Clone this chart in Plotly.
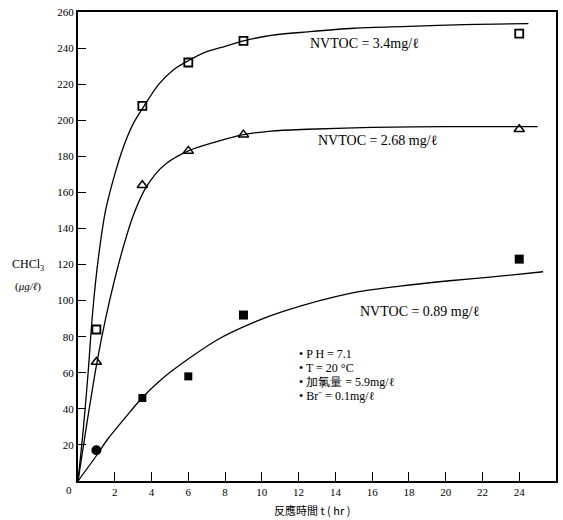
import plotly.graph_objects as go

# ---- measured points ----
t_pts = [1.0, 3.5, 6.0, 9.0, 24.0]
y_34 = [84, 208, 232, 244, 248]        # NVTOC = 3.4 mg/l (open squares)
y_268 = [66, 164, 183, 192, 195]       # NVTOC = 2.68 mg/l (open triangles)
y_089 = [17, 46, 58, 92, 123]          # NVTOC = 0.89 mg/l (filled squares)

# ---- hand-drawn fitted curves ----
ct_34 = [0, 0.3, 0.55, 0.8, 1.1, 1.5, 2.0, 2.5, 3.0, 3.6, 4.4, 5.2, 6.0, 7.0, 8.0, 9.0, 10.5, 12.5, 15, 18, 21, 24.5]
cy_34 = [0, 30, 60, 94, 123, 150, 170, 186, 198, 208, 220, 228, 233, 238, 241, 244, 247, 249, 251, 252, 253, 253.5]
ct_268 = [0, 0.5, 1.0, 1.5, 2.0, 2.5, 3.0, 3.6, 4.2, 4.8, 6.0, 7.5, 9.0, 10.5, 12.5, 16, 20, 25]
cy_268 = [0, 33, 64, 90, 112, 131, 147, 161, 170, 176, 183, 188, 192, 194, 195, 196, 196.5, 196.5]
ct_089 = [0, 1.0, 1.6, 2.56, 3.48, 4.5, 6.05, 7.7, 9.34, 11.16, 14.8, 17.5, 20.2, 22.4, 25.3]
cy_089 = [0, 14, 23, 35, 46, 56, 68, 79, 87, 94, 104, 108, 111, 113, 116]

x_ticks = [2, 4, 6, 8, 10, 12, 14, 16, 18, 20, 22, 24]
y_ticks = [20, 40, 60, 80, 100, 120, 140, 160, 180, 200, 220, 240, 260]

labels = ["NVTOC = 3.4mg/ℓ", "NVTOC = 2.68 mg/ℓ", "NVTOC = 0.89 mg/ℓ"]
conditions = ["• P H = 7.1", "• T = 20 °C", "• 加氯量 = 5.9mg/ℓ", "• Br⁻ = 0.1mg/ℓ"]

SERIF = "Liberation Serif, Times New Roman, serif"

fig = go.Figure()
line_style = dict(color="black", width=1.3, shape="spline", smoothing=0.9)
for ct, cy in [(ct_34, cy_34), (ct_268, cy_268), (ct_089, cy_089)]:
    fig.add_trace(go.Scatter(x=ct, y=cy, mode="lines", line=line_style,
                             showlegend=False, hoverinfo="skip"))

fig.add_trace(go.Scatter(x=t_pts, y=y_34, mode="markers", showlegend=False,
                         marker=dict(symbol="square-open", size=8, color="black", opacity=1,
                                     line=dict(width=1.8, color="black"))))
fig.add_trace(go.Scatter(x=t_pts, y=y_268, mode="markers", showlegend=False,
                         marker=dict(symbol="triangle-up-open", size=9, color="black", opacity=1,
                                     line=dict(width=1.5, color="black"))))
fig.add_trace(go.Scatter(x=t_pts, y=y_089, mode="markers", showlegend=False,
                         marker=dict(symbol=["circle", "square", "square", "square", "square"],
                                     size=[10, 8, 8, 9, 9], color="black", opacity=1,
                                     line=dict(width=0))))

ann = []
ann.append(dict(x=15.6, y=242.5, text=labels[0]))
ann.append(dict(x=16.3, y=189, text=labels[1]))
ann.append(dict(x=18.6, y=94, text=labels[2]))
for a in ann:
    a.update(xref="x", yref="y", showarrow=False, font=dict(family=SERIF, size=14, color="black"))
for i, c in enumerate(conditions):
    ann.append(dict(x=11.9, y=70.5 - i * 7.75, text=c, xref="x", yref="y", xanchor="left",
                    showarrow=False, font=dict(family=SERIF, size=12, color="black")))
# shared origin label
ann.append(dict(xref="paper", yref="paper", x=-0.019, y=-0.019, text="0",
                xanchor="center", yanchor="middle",
                showarrow=False, font=dict(family=SERIF, size=11, color="black")))
# y-axis label
ann.append(dict(xref="paper", yref="paper", x=-0.104, y=0.46, text="CHCl<sub>3</sub>",
                showarrow=False, xanchor="center", font=dict(family=SERIF, size=12, color="black")))
ann.append(dict(xref="paper", yref="paper", x=-0.104, y=0.415, text="(<i>μg/ℓ</i>)",
                showarrow=False, xanchor="center", font=dict(family=SERIF, size=11, color="black")))
# x-axis title
ann.append(dict(xref="paper", yref="paper", x=0.49, y=-0.062, text="反應時間 t ( hr )",
                showarrow=False, xanchor="center", yanchor="middle",
                font=dict(family="Noto Sans CJK TC, " + SERIF, size=11, color="black")))
fig.update_layout(annotations=ann)

fig.update_layout(
    width=563, height=520,
    margin=dict(l=78, r=5, t=12, b=39),
    paper_bgcolor="white", plot_bgcolor="white",
    font=dict(family=SERIF, size=11, color="black"),
    hovermode=False,
    xaxis=dict(range=[0, 26], tickvals=x_ticks, ticks="inside", ticklen=9, tickwidth=1.3,
               tickcolor="black", showline=True, linecolor="black", linewidth=2, mirror=True,
               showgrid=False, zeroline=False),
    yaxis=dict(range=[0, 260], tickvals=y_ticks, ticks="inside", ticklen=8, tickwidth=1.3,
               tickcolor="black", showline=True, linecolor="black", linewidth=2, mirror=True,
               showgrid=False, zeroline=False, ticklabeloverflow="allow"),
)

fig.write_html("out.html", config={"displayModeBar": False},
               post_script="document.body.style.margin='0';")
